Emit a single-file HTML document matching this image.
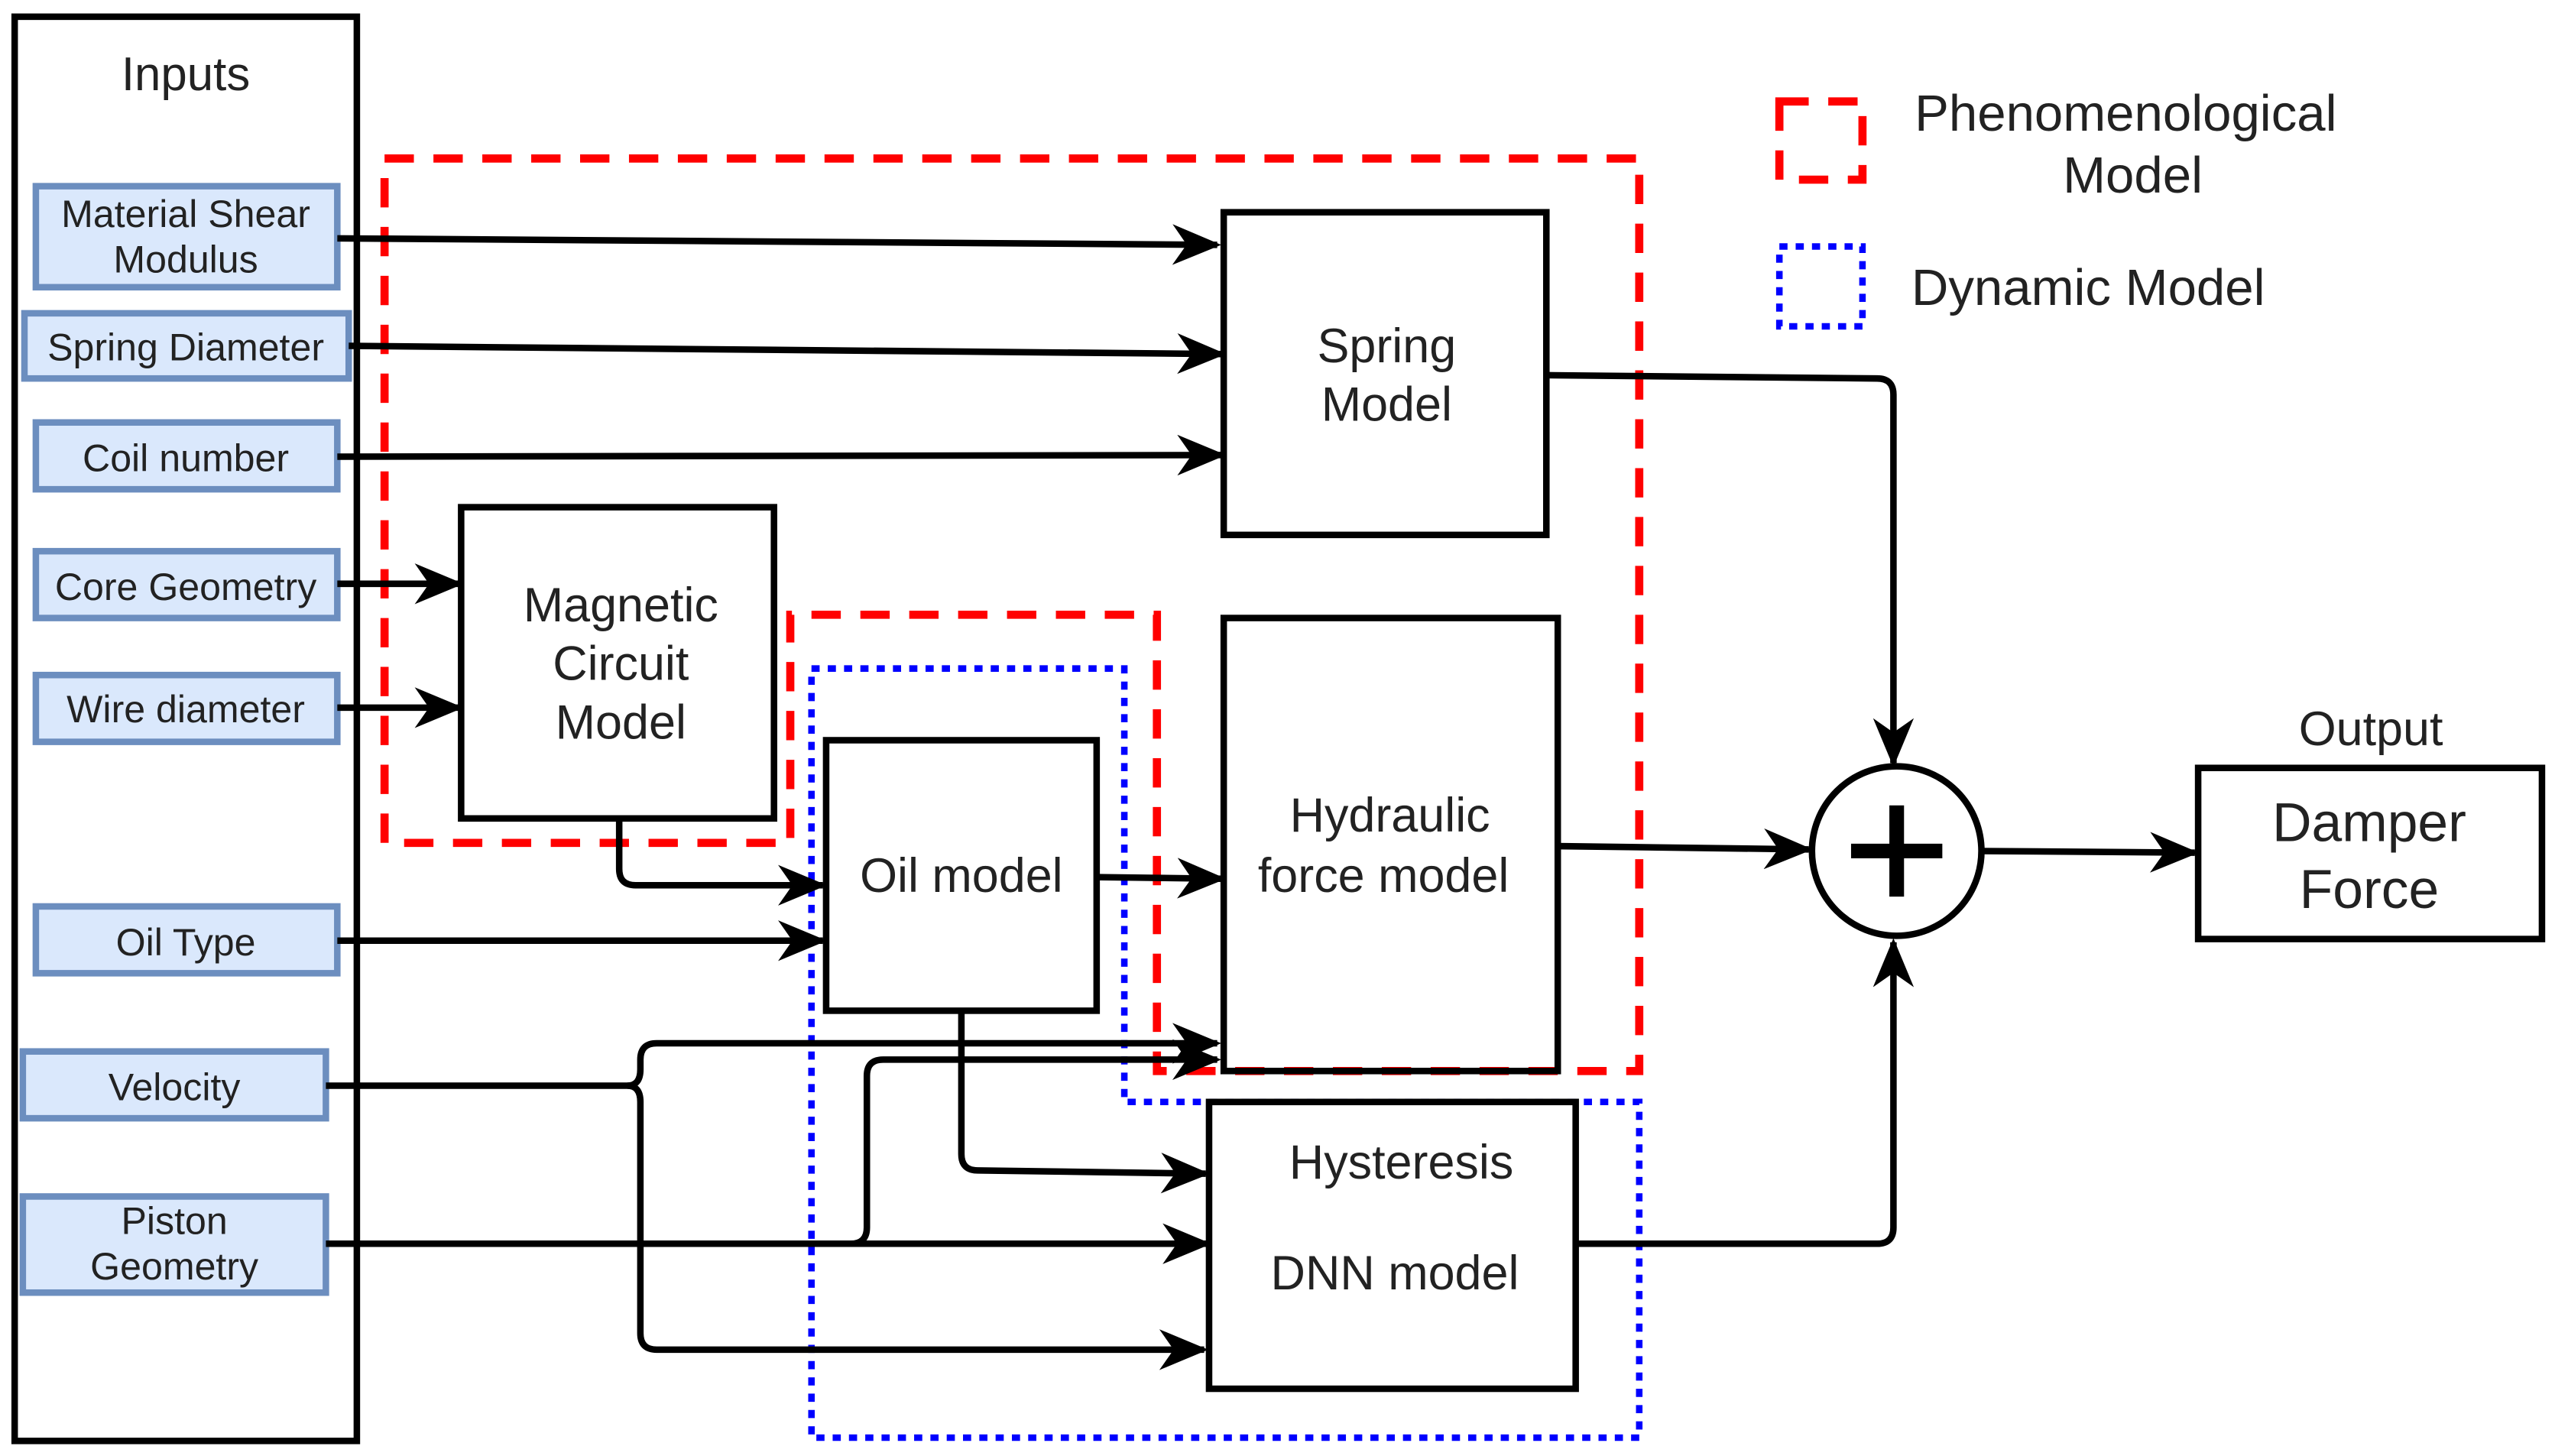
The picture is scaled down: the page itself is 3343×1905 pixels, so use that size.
<!DOCTYPE html>
<html><head><meta charset="utf-8"><style>
html,body{margin:0;padding:0;background:#fff;}
svg{display:block;}
text{font-family:"Liberation Sans",sans-serif;fill:#222;text-anchor:middle;}
</style></head><body>
<svg width="3343" height="1905" viewBox="0 0 1568 893" xmlns="http://www.w3.org/2000/svg">
<defs>
<marker id="ar" viewBox="0 0 12 10" refX="11" refY="5" markerWidth="30" markerHeight="25" markerUnits="userSpaceOnUse" orient="auto">
<path d="M0,0 L12,5 L0,10 L3.5,5 Z" fill="#000"/>
</marker>
</defs>
<rect width="1568" height="893" fill="#fff"/>
<rect x="9" y="10" width="210" height="874" fill="none" stroke="#000" stroke-width="4"/>
<text x="114" y="55" font-size="29">Inputs</text>
<g fill="#dae8fc" stroke="#6c8ebf" stroke-width="4">
<rect x="22" y="114" width="185" height="62"/>
<rect x="15" y="192" width="199" height="40"/>
<rect x="22" y="259" width="185" height="41"/>
<rect x="22" y="338" width="185" height="41"/>
<rect x="22" y="414" width="185" height="41"/>
<rect x="22" y="556" width="185" height="41"/>
<rect x="14" y="645" width="186" height="41"/>
<rect x="14" y="734" width="186" height="59"/>
</g>
<g font-size="23.5">
<text x="114" y="139">Material Shear</text>
<text x="114" y="167">Modulus</text>
<text x="114" y="221">Spring Diameter</text>
<text x="114" y="289">Coil number</text>
<text x="114" y="368">Core Geometry</text>
<text x="114" y="443">Wire diameter</text>
<text x="114" y="586">Oil Type</text>
<text x="107" y="675">Velocity</text>
<text x="107" y="757">Piston</text>
<text x="107" y="785">Geometry</text>
</g>
<path d="M236,517 L236,97 L1006,97 L1006,657 L710,657 L710,377 L485,377 L485,517 Z" fill="none" stroke="#f00" stroke-width="5" stroke-dasharray="18 12"/>
<path d="M498,410 L690,410 L690,676 L1006,676 L1006,882 L498,882 Z" fill="none" stroke="#00f" stroke-width="4" stroke-dasharray="5 5"/>
<g fill="none" stroke="#000" stroke-width="4">
<rect x="751" y="130" width="198" height="198"/>
<rect x="283" y="311" width="192" height="191"/>
<rect x="507" y="454" width="166" height="166"/>
<rect x="751" y="379" width="205" height="278"/>
<rect x="742" y="676" width="225" height="176"/>
<rect x="1349" y="471" width="211" height="105"/>
<circle cx="1164" cy="522" r="52"/>
</g>
<path d="M1164,494 V550 M1136,522 H1192" stroke="#000" stroke-width="9"/>
<g font-size="29.5">
<text x="851" y="222">Spring</text>
<text x="851" y="258">Model</text>
<text x="381" y="381">Magnetic</text>
<text x="381" y="417">Circuit</text>
<text x="381" y="453">Model</text>
<text x="590" y="547">Oil model</text>
<text x="853" y="510">Hydraulic</text>
<text x="849" y="547">force model</text>
<text x="860" y="723">Hysteresis</text>
<text x="856" y="791">DNN model</text>
<text x="1455" y="457">Output</text>
</g>
<g font-size="33.5">
<text x="1454" y="516">Damper</text>
<text x="1454" y="557">Force</text>
</g>
<rect x="1092" y="62" width="51" height="48" fill="none" stroke="#f00" stroke-width="5" stroke-dasharray="18 12"/>
<rect x="1092" y="151" width="51" height="49" fill="none" stroke="#00f" stroke-width="4" stroke-dasharray="5 5"/>
<g font-size="31.5">
<text x="1175" y="80" style="text-anchor:start">Phenomenological</text>
<text x="1266" y="118" style="text-anchor:start">Model</text>
<text x="1173" y="187" style="text-anchor:start">Dynamic  Model</text>
</g>
<g fill="none" stroke="#000" stroke-width="4" marker-end="url(#ar)">
<path d="M207,146 L747,150"/>
<path d="M214,212 L750,217"/>
<path d="M207,280 L750,279"/>
<path d="M207,358 L282,358"/>
<path d="M207,434 L282,434"/>
<path d="M380,502 V533 Q380,543 390,543 L505,543"/>
<path d="M207,577 L505,577"/>
<path d="M673,538 L750,539"/>
<path d="M949,230 L1152,232 Q1162,232 1162,242 L1162,468"/>
<path d="M956,519 L1110,521"/>
<path d="M1216,522 L1347,523"/>
<path d="M967,763 L1152,763 Q1162,763 1162,753 L1162,578"/>
<path d="M590,620 V708 Q590,718 600,718 L740,720"/>
<path d="M200,666 L385,666 Q393,666 393,656 L393,650 Q393,640 403,640 L747,640"/>
<path d="M385,666 Q393,666 393,676 L393,818 Q393,828 403,828 L739,828"/>
<path d="M200,763 L741,763"/>
<path d="M522,763 Q532,763 532,753 L532,660 Q532,650 542,650 L747,650"/>
</g>
</svg>
</body></html>
